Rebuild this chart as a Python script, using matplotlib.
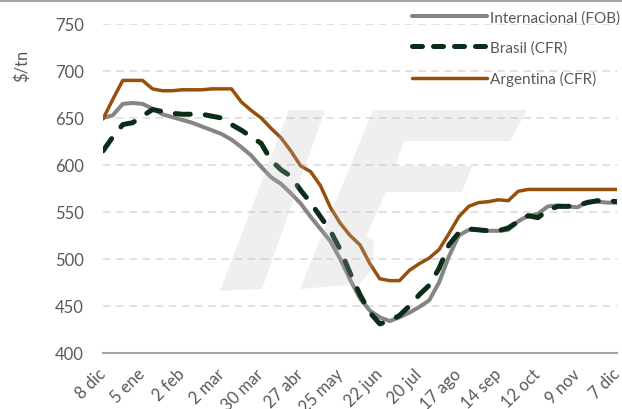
import matplotlib
matplotlib.use('Agg')
import matplotlib.pyplot as plt
from matplotlib.patches import Polygon
from matplotlib.lines import Line2D

# weekly prices, 8 dic -> 7 dic
internacional = [650, 653, 665, 666, 665, 660, 654, 651, 648, 645,
                 641, 637, 633, 627, 619, 610, 598, 587, 580, 570,
                 559, 545, 532, 519, 500, 478, 458, 445, 438, 434,
                 438, 443, 449, 456, 475, 503, 525, 531, 531, 530,
                 530, 531, 540, 546, 548, 556, 557, 556, 555, 561,
                 561, 560, 560]
brasil = [615, 630, 643, 645, 652, 659, 657, 655, 654, 654,
          654, 652, 650, 643, 637, 630, 623, 605, 595, 588,
          573, 560, 545, 530, 510, 485, 462, 443, 431, 434,
          440, 450, 462, 472, 490, 515, 528, 532, 531, 530,
          530, 533, 540, 546, 544, 552, 556, 556, 557, 560,
          562, 562, 561]
argentina = [649, 670, 690, 690, 690, 681, 679, 679, 680, 680,
             680, 681, 681, 681, 667, 658, 650, 639, 629, 615,
             599, 593, 578, 555, 538, 525, 515, 495, 479, 477,
             477, 488, 495, 501, 510, 527, 545, 556, 560, 561,
             563, 562, 572, 574, 574, 574, 574, 574, 574, 574,
             574, 574, 574]
tick_labels = ['8 dic', '5 ene', '2 feb', '2 mar', '30 mar', '27 abr', '25 may',
               '22 jun', '20 jul', '17 ago', '14 sep', '12 oct', '9 nov', '7 dic']

W, H = 622, 410
txt = '#595959'
c_int = '#858585'
c_bra = '#0b2d17'
c_arg = '#97500c'

plt.rcParams['font.family'] = ['Lato', 'DejaVu Sans']

fig = plt.figure(figsize=(W / 100, H / 100), dpi=100)
ax = fig.add_axes([103 / W, 1 - 354 / H, 514 / W, 329 / H])

x = list(range(len(internacional)))
ax.plot(x, internacional, color=c_int, lw=2.9, solid_capstyle='round', zorder=3)
ax.plot(x, brasil, color=c_bra, lw=3.6, dashes=(3, 3), dash_capstyle='round', zorder=4)
ax.plot(x, argentina, color=c_arg, lw=2.5, solid_capstyle='round', zorder=3)

ax.set_xlim(0, 52)
ax.set_ylim(400, 750)
ax.set_yticks(range(400, 751, 50))
ax.set_xticks(range(0, 53, 4))
ax.set_xticklabels(tick_labels, rotation=45, ha='right', va='center', rotation_mode='anchor')
ax.tick_params(axis='both', length=0, labelsize=12, labelcolor=txt)
ax.tick_params(axis='y', pad=14)
ax.tick_params(axis='x', pad=13)
ax.grid(axis='y', color='#d9d9d9', lw=1.1, dashes=(5, 3.6))
ax.set_axisbelow(True)
for s in ['top', 'right', 'left']:
    ax.spines[s].set_visible(False)
ax.spines['bottom'].set_color('#a6a6a6')
ax.spines['bottom'].set_linewidth(1.5)

fig.text(22 / W, 1 - 66 / H, '$/tn', rotation=90, ha='center', va='center',
         fontsize=12, color=txt)

# faint logo watermark
def px(pts):
    return [(a / W, 1 - b / H) for a, b in pts]

logo_j = [(289, 111), (325, 111), (262, 290), (220, 292)]
logo_c = [(373, 111), (527, 111), (510, 142), (404, 142), (395, 167), (472, 167),
          (462, 193), (386, 193), (366, 237), (374, 242), (372, 270), (360, 285),
          (300, 290)]
for poly in [logo_j, logo_c]:
    fig.add_artist(Polygon(px(poly), closed=True, transform=fig.transFigure,
                           facecolor='#bbbbbb', edgecolor='none', alpha=0.23, zorder=5))

# top border
fig.add_artist(Line2D([0, 1], [1 - 2 / H, 1 - 2 / H], transform=fig.transFigure,
                      color='#a6a6a6', lw=1.5))

handles = [Line2D([], [], color=c_int, lw=2.9, solid_capstyle='round'),
           Line2D([], [], color=c_bra, lw=3.6, dashes=(2, 2.2), dash_capstyle='round'),
           Line2D([], [], color=c_arg, lw=2.5, solid_capstyle='round')]
fig.legend(handles, ['Internacional (FOB)', 'Brasil (CFR)', 'Argentina (CFR)'],
           loc='upper left', bbox_to_anchor=(406 / W, 1 - 5 / H), frameon=False,
           fontsize=11, labelcolor=txt, handlelength=4.9, handletextpad=0.2,
           labelspacing=1.05, borderaxespad=0)

fig.savefig('out.png', dpi=100)
